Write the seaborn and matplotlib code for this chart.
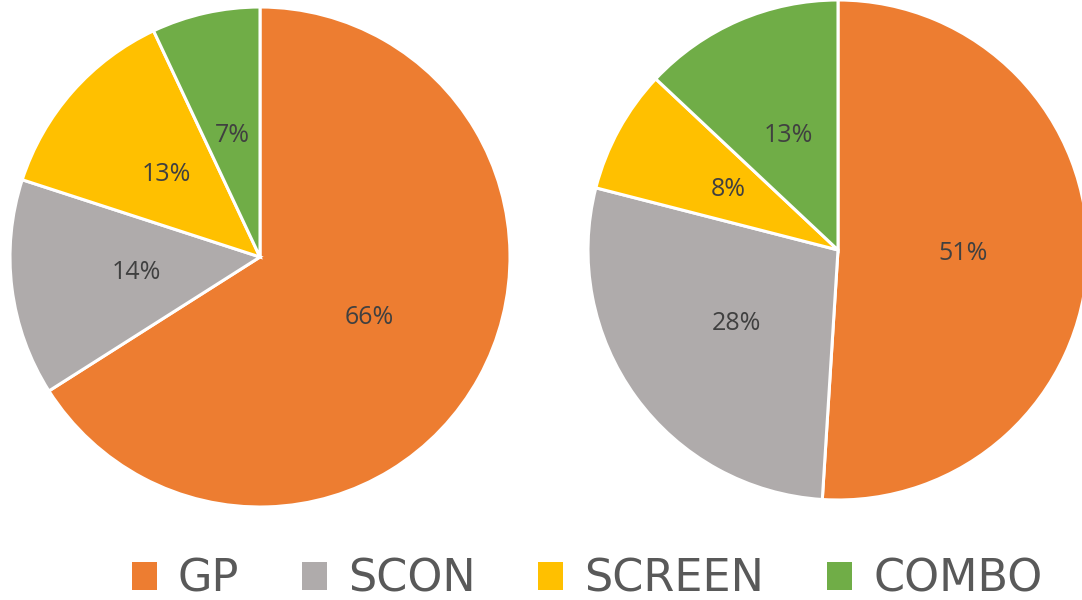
import matplotlib
matplotlib.use("Agg")
import matplotlib.pyplot as plt
from matplotlib.patches import Rectangle
import seaborn as sns

categories = ["GP", "SCON", "SCREEN", "COMBO"]
values_left = [66, 14, 13, 7]
values_right = [51, 28, 8, 13]
colors = ["#ED7D31", "#AFABAB", "#FFC000", "#70AD47"]

sns.set_theme(style="white")
plt.rcParams['font.family'] = ['Open Sans', 'DejaVu Sans']

W, H = 1082, 600
fig = plt.figure(figsize=(W / 100, H / 100), dpi=100)
palette = sns.color_palette(colors)

def add_pie(cx, cy, r, vals):
    ax = fig.add_axes([(cx - r) / W, (H - cy - r) / H, 2 * r / W, 2 * r / H])
    wedges, texts, autotexts = ax.pie(
        vals, colors=palette, startangle=90, counterclock=False,
        autopct=lambda p: f"{p:.0f}%", pctdistance=0.5, radius=1,
        wedgeprops=dict(edgecolor="white", linewidth=2.2),
        textprops=dict(color="#404040", fontsize=18))
    ax.set_xlim(-1, 1)
    ax.set_ylim(-1, 1)
    ax.axis("off")
    return wedges

add_pie(260, 257, 250, values_left)
add_pie(838, 250, 250, values_right)

handles = [Rectangle((0, 0), 1, 1, facecolor=c, edgecolor="none") for c in palette]
leg = fig.legend(handles, categories, loc="center", bbox_to_anchor=(587 / W, 1 - 579 / H),
                 ncol=4, frameon=False, handlelength=0.56, handleheight=0.59,
                 handletextpad=0.47, columnspacing=1.42, labelcolor="#595959",
                 borderpad=0, borderaxespad=0,
                 prop=dict(family=['DejaVu Sans'], size=32))

fig.savefig("out.png", dpi=100)
